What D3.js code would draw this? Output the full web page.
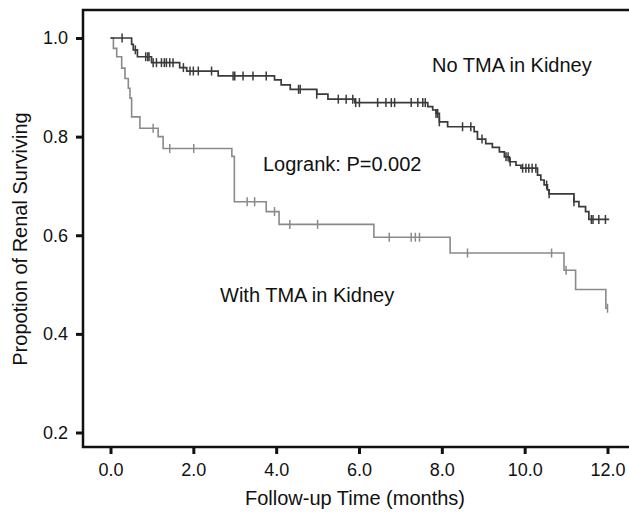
<!DOCTYPE html>
<html lang="en">
<head>
<meta charset="UTF-8">
<title>Renal Survival by TMA</title>
<script src="https://cdnjs.cloudflare.com/ajax/libs/d3/7.8.5/d3.min.js"></script>
<style>
    body { margin: 0; background: #fff; }
    svg { display: block; font-family: "Liberation Sans", Arial, sans-serif; }
</style>
</head>
<body>
<svg id="chart" width="629" height="514"></svg>
<script>
// No TMA in kidney: step times (months) and survival after each step
const noTmaTimes = [0, 0.51, 0.55, 0.65, 0.99, 1.67, 1.84, 2.6, 3.96, 4.12, 4.34, 4.98, 5.25, 5.9,
    7.66, 7.78, 7.86, 7.94, 8.14, 8.78, 8.86, 9.06, 9.22, 9.39, 9.51, 9.63, 9.79, 9.91,
    10.31, 10.39, 10.47, 10.55, 10.59, 11.19, 11.31, 11.47, 11.55];
const noTmaSurv = [1.0, 0.987, 0.976, 0.962, 0.95, 0.94, 0.933, 0.923, 0.915, 0.905, 0.896, 0.886, 0.876, 0.869,
    0.861, 0.854, 0.847, 0.830, 0.820, 0.810, 0.795, 0.786, 0.778, 0.769, 0.759, 0.749, 0.742, 0.736,
    0.722, 0.712, 0.702, 0.692, 0.684, 0.668, 0.658, 0.648, 0.632];
const noTmaEnd = 12.04;
const noTmaCensor = [0.28, 0.6, 0.85, 0.9, 0.93, 1.03, 1.11, 1.23, 1.3, 1.35, 1.43, 1.51, 1.76, 1.92, 2.0, 2.12,
    2.44, 2.96, 3.0, 3.2, 3.44, 3.76, 4.54, 4.58, 4.98, 5.5, 5.69, 5.85, 5.92, 6.01, 6.45, 6.65, 6.78, 6.86,
    7.26, 7.42, 7.54, 7.6, 7.86, 7.9, 7.94, 8.5, 8.7, 8.97, 9.55, 9.6, 9.65, 9.95, 10.03, 10.1, 10.18, 10.27,
    10.53, 10.59, 11.19, 11.61, 11.65, 11.79, 11.95];

// With TMA in kidney
const tmaTimes = [0, 0.07, 0.15, 0.27, 0.35, 0.43, 0.47, 0.51, 0.71, 1.15, 1.27, 2.93, 2.99, 3.76, 4.07,
    6.36, 8.2, 10.95, 11.23, 11.96];
const tmaSurv = [1.0, 0.979, 0.962, 0.939, 0.918, 0.898, 0.878, 0.84, 0.817, 0.8, 0.776, 0.76, 0.668, 0.648, 0.622,
    0.596, 0.564, 0.529, 0.49, 0.452];
const tmaEnd = 12.0;
const tmaCensor = [1.03, 1.43, 2.01, 3.3, 3.48, 3.96, 4.33, 5.0, 6.73, 7.26, 7.36, 7.46, 8.62, 10.65, 11.0, 12.0];

const xTicks = [0, 2, 4, 6, 8, 10, 12];
const yTicks = [0.2, 0.4, 0.6, 0.8, 1.0];

const svg = d3.select("#chart");
const frameLeft = 83, frameTop = 10, frameBottom = 447, frameRight = 629;

const x = d3.scaleLinear().domain([0, 12]).range([110.5, 607.5]);
const y = d3.scaleLinear().domain([0.2, 1.0]).range([432.5, 38]);

// frame (no right edge)
svg.append("path")
    .attr("d", `M${frameRight},${frameTop}H${frameLeft}V${frameBottom}H${frameRight}`)
    .attr("fill", "none")
    .attr("stroke", "#111")
    .attr("stroke-width", 2.5);

// axes
const xAxis = svg.append("g")
    .attr("transform", `translate(0,${frameBottom})`)
    .call(d3.axisBottom(x).tickValues(xTicks).tickSize(7).tickPadding(9).tickFormat(d3.format(".1f")));
const yAxis = svg.append("g")
    .attr("transform", `translate(${frameLeft},0)`)
    .call(d3.axisLeft(y).tickValues(yTicks).tickSize(7).tickPadding(8).tickFormat(d3.format(".1f")));

[xAxis, yAxis].forEach(g => {
    g.select(".domain").remove();
    g.selectAll(".tick line").attr("stroke", "#111").attr("stroke-width", 3);
    g.selectAll(".tick text")
        .attr("fill", "#111")
        .style("font-size", "18px")
        .style("font-family", "'Liberation Sans', Arial, sans-serif");
});

// step curves
function stepPoints(times, surv, end) {
    const pts = times.map((t, i) => [t, surv[i]]);
    pts.push([end, surv[surv.length - 1]]);
    return pts;
}
function survAt(times, surv, t) {
    let s = surv[0];
    for (let i = 0; i < times.length; i++) {
        if (times[i] <= t) s = surv[i];
    }
    return s;
}

const line = d3.line()
    .x(d => x(d[0]))
    .y(d => y(d[1]))
    .curve(d3.curveStepAfter);

const groups = [
    { times: tmaTimes, surv: tmaSurv, end: tmaEnd, censor: tmaCensor, color: "#8a8a8a", width: 1.6 },
    { times: noTmaTimes, surv: noTmaSurv, end: noTmaEnd, censor: noTmaCensor, color: "#3a3a3a", width: 1.7 }
];

groups.forEach(g => {
    svg.append("path")
        .attr("d", line(stepPoints(g.times, g.surv, g.end)))
        .attr("fill", "none")
        .attr("stroke", g.color)
        .attr("stroke-width", g.width);

    svg.selectAll(null)
        .data(g.censor)
        .enter()
        .append("line")
        .attr("x1", d => x(d))
        .attr("x2", d => x(d))
        .attr("y1", d => y(survAt(g.times, g.surv, d)) - 4.5)
        .attr("y2", d => y(survAt(g.times, g.surv, d)) + 4.5)
        .attr("stroke", g.color)
        .attr("stroke-width", 1.5);
});

// annotations
const labels = [
    { text: "No TMA in Kidney", x: 432, y: 72 },
    { text: "Logrank: P=0.002", x: 263, y: 171 },
    { text: "With TMA in Kidney", x: 220, y: 302 }
];
svg.selectAll(".note")
    .data(labels)
    .enter()
    .append("text")
    .attr("class", "note")
    .attr("x", d => d.x)
    .attr("y", d => d.y)
    .attr("fill", "#111")
    .style("font-size", "20px")
    .text(d => d.text);

// axis titles
svg.append("text")
    .attr("x", 355)
    .attr("y", 505)
    .attr("text-anchor", "middle")
    .attr("fill", "#111")
    .style("font-size", "20px")
    .text("Follow-up Time (months)");

svg.append("text")
    .attr("transform", "translate(27,239) rotate(-90)")
    .attr("text-anchor", "middle")
    .attr("fill", "#111")
    .style("font-size", "20px")
    .text("Propotion of Renal Surviving");
</script>
</body>
</html>
